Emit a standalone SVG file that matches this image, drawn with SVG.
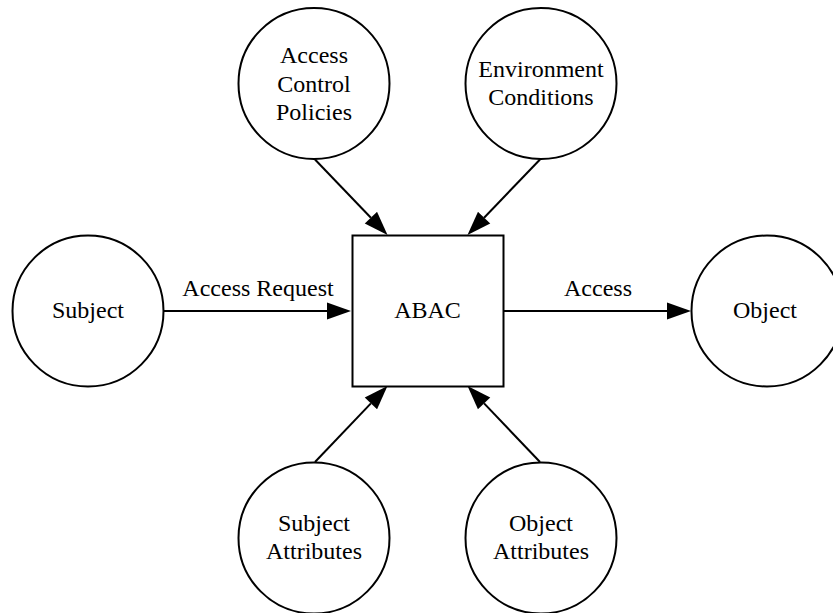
<svg xmlns="http://www.w3.org/2000/svg" width="833" height="613" viewBox="0 0 833 613">
<defs>
<marker id="arr" markerUnits="userSpaceOnUse" markerWidth="25" markerHeight="18" viewBox="0 0 25 18" refX="0.5" refY="9" orient="auto">
<path d="M0.5,0.5 L24.5,9 L0.5,17.5 z" fill="#000"/>
</marker>
<style>
.n{fill:#fff;stroke:#000;stroke-width:2}
.t{font-family:"Liberation Serif","Times New Roman",serif;font-size:24px;fill:#000;text-anchor:middle}
.e{stroke:#000;stroke-width:2;fill:none;marker-end:url(#arr)}
</style>
</defs>
<rect width="833" height="613" fill="#fff"/>
<g id="connectors">
<line class="e" x1="164" y1="311" x2="327" y2="311"/>
<line class="e" x1="503.5" y1="311" x2="667" y2="311"/>
<line class="e" x1="315" y1="159.5" x2="370.9" y2="217.7"/>
<line class="e" x1="540" y1="159.5" x2="484.1" y2="217.7"/>
<line class="e" x1="315" y1="462" x2="370.9" y2="403.4"/>
<line class="e" x1="540" y1="462" x2="484.1" y2="403.4"/>
<text class="t" x="258" y="296">Access Request</text>
<text class="t" x="598" y="296">Access</text>
</g>
<g id="abac">
<rect class="n" x="352.5" y="235.5" width="151" height="151"/>
<text class="t" x="427.5" y="318">ABAC</text>
</g>
<g id="subject">
<circle class="n" cx="88" cy="311" r="75.5"/>
<text class="t" x="88" y="318">Subject</text>
</g>
<g id="object">
<circle class="n" cx="767" cy="311" r="75.5"/>
<text class="t" x="765" y="318">Object</text>
</g>
<g id="policies">
<circle class="n" cx="314" cy="83.5" r="75.5"/>
<text class="t" x="314" y="63">Access</text>
<text class="t" x="314" y="91.5">Control</text>
<text class="t" x="314" y="119.5">Policies</text>
</g>
<g id="environment">
<circle class="n" cx="541" cy="83.5" r="75.5"/>
<text class="t" x="541" y="77">Environment</text>
<text class="t" x="541" y="105">Conditions</text>
</g>
<g id="subject-attributes">
<circle class="n" cx="314" cy="538" r="75.5"/>
<text class="t" x="314" y="531">Subject</text>
<text class="t" x="314" y="559">Attributes</text>
</g>
<g id="object-attributes">
<circle class="n" cx="541" cy="538" r="75.5"/>
<text class="t" x="541" y="531">Object</text>
<text class="t" x="541" y="559">Attributes</text>
</g>
</svg>
